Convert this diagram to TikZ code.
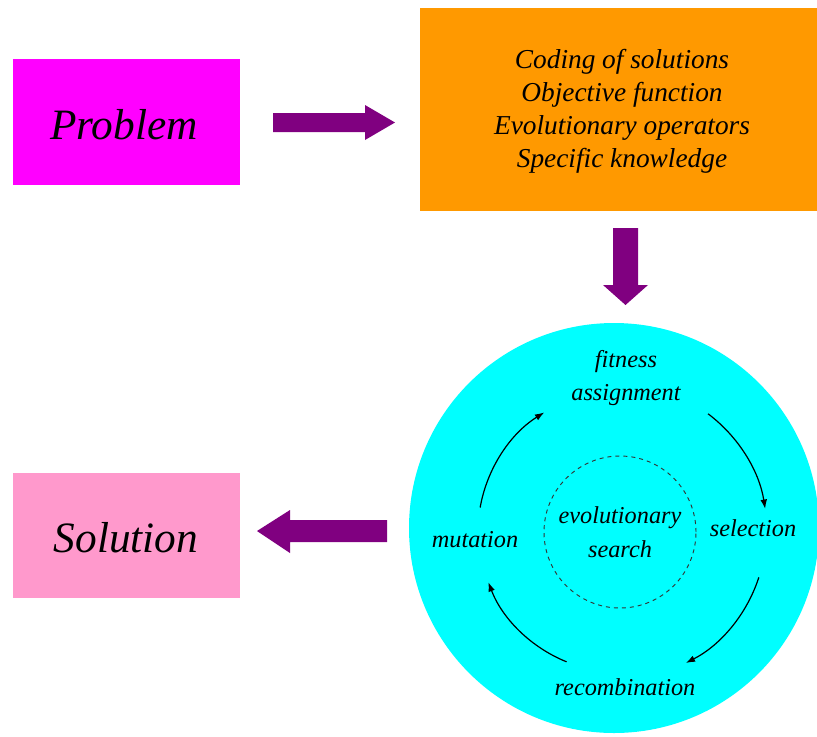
\documentclass[tikz,border=0pt]{standalone}
\usepackage{fontspec}
\setmainfont{Liberation Serif}
\usetikzlibrary{arrows.meta}
\newlength\px
\setlength\px{0.75pt}
\definecolor{probcol}{RGB}{255,0,255}
\definecolor{setupcol}{RGB}{255,153,0}
\definecolor{solcol}{RGB}{255,153,204}
\definecolor{loopcol}{RGB}{0,255,255}
\definecolor{blockarrow}{RGB}{128,0,128}
\tikzset{
  bigtext/.style={font=\fontsize{32.5}{38}\selectfont\itshape},
  listtext/.style={font=\fontsize{20.5}{24.8}\selectfont\itshape, align=center},
  looptext/.style={font=\fontsize{18.2}{22.5}\selectfont\itshape, align=center, inner sep=0pt},
  fatarrow/.style={fill=blockarrow, draw=none},
  looparrow/.style={draw=black, line width=0.9pt, -{Latex[length=7pt,width=5pt]}}
}
\begin{document}
\begin{tikzpicture}[x=1\px, y=-1\px]
\clip (0,0) rectangle (817,736);
\fill[white] (0,0) rectangle (817,736);

% boxes
\fill[probcol] (13,59) rectangle (240,185);
\node[bigtext] (problem) at (124,125) {Problem};
\fill[setupcol] (420,8) rectangle (830,211);
\node[listtext] (setup) at (622,111) {Coding of solutions\\Objective function\\Evolutionary operators\\Specific knowledge};
\fill[solcol] (13,473) rectangle (240,598);
\node[bigtext] (solution) at (126,538) {Solution};

% block arrows
\path[fatarrow] (273,113) -- (365,113) -- (365,105) -- (395,122.5) -- (365,140) -- (365,132) -- (273,132) -- cycle;
\path[fatarrow] (613,228) -- (638,228) -- (638,285) -- (648,285) -- (625.5,305) -- (603,285) -- (613,285) -- cycle;
\path[fatarrow] (387,520) -- (290,520) -- (290,510) -- (257,531) -- (290,553) -- (290,542) -- (387,542) -- cycle;

% evolutionary loop
\node[circle, fill=loopcol, minimum size=410\px, inner sep=0pt] (loop) at (614,528) {};
\coordinate (c) at (619,532);
\node[circle, draw=black!80, dashed, line width=0.7pt, minimum size=152\px, inner sep=0pt] (core) at (620,532) {};
\node[looptext] at (core.center) {evolutionary\\[3pt]search};
\node[looptext] (fit) at (626,378) {fitness\\[2pt]assignment};
\node[looptext] (sel) at (753,528) {selection};
\node[looptext] (rec) at (625,687) {recombination};
\node[looptext] (mut) at (475,540) {mutation};

% cycle arrows (y axis points down, so angles run clockwise on the page)
\draw[looparrow] ([shift={(-170:141)}]c) arc[start angle=-170, end angle=-122, radius=141];
\draw[looparrow] ([shift={(-53:148)}]c) arc[start angle=-53, end angle=-9, radius=148];
\draw[looparrow] ([shift={(18:147)}]c) arc[start angle=18, end angle=63, radius=147];
\draw[looparrow] ([shift={(112:140)}]c) arc[start angle=112, end angle=159, radius=140];
\end{tikzpicture}
\end{document}
